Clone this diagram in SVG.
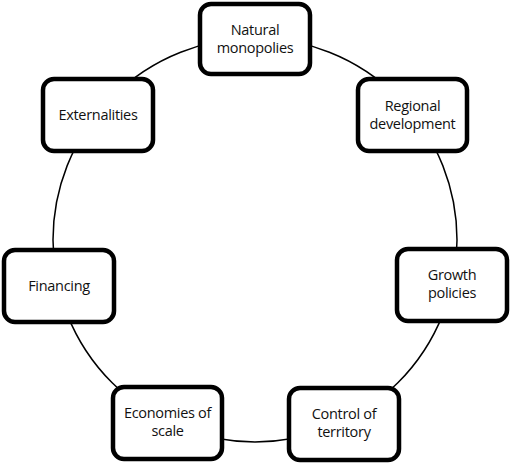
<svg xmlns="http://www.w3.org/2000/svg" width="510" height="463" viewBox="0 0 510 463">
<style>
.box{fill:#fff;stroke:#000;stroke-width:4.5}
.lbl{font-family:"Open Sans","Liberation Sans",sans-serif;font-size:14.5px;font-weight:500;fill:#111;text-anchor:middle;letter-spacing:-0.3px}
.ring{fill:none;stroke:#000;stroke-width:1.5}
</style>
<rect width="510" height="463" fill="#fff"/>
<g id="connectors">
<circle class="ring" cx="255" cy="240" r="202"/>
</g>
<g id="natural-monopolies">
<rect class="box" x="200" y="4" width="110" height="70" rx="11"/>
<text class="lbl" x="255" y="35">Natural</text>
<text class="lbl" x="255" y="53">monopolies</text>
</g>
<g id="regional-development">
<rect class="box" x="358" y="79" width="109" height="72" rx="11"/>
<text class="lbl" x="412.5" y="111">Regional</text>
<text class="lbl" x="412.5" y="129">development</text>
</g>
<g id="externalities">
<rect class="box" x="43" y="79" width="110" height="72" rx="11"/>
<text class="lbl" x="98" y="120">Externalities</text>
</g>
<g id="financing">
<rect class="box" x="4" y="250" width="110" height="72" rx="11"/>
<text class="lbl" x="59" y="291">Financing</text>
</g>
<g id="growth-policies">
<rect class="box" x="397" y="249" width="110" height="72" rx="11"/>
<text class="lbl" x="452" y="280">Growth</text>
<text class="lbl" x="452" y="298">policies</text>
</g>
<g id="economies-of-scale">
<rect class="box" x="113" y="387" width="109" height="72" rx="11"/>
<text class="lbl" x="167.5" y="418">Economies of</text>
<text class="lbl" x="167.5" y="436">scale</text>
</g>
<g id="control-of-territory">
<rect class="box" x="289" y="388" width="110" height="72" rx="11"/>
<text class="lbl" x="344" y="419">Control of</text>
<text class="lbl" x="344" y="437">territory</text>
</g>
</svg>
